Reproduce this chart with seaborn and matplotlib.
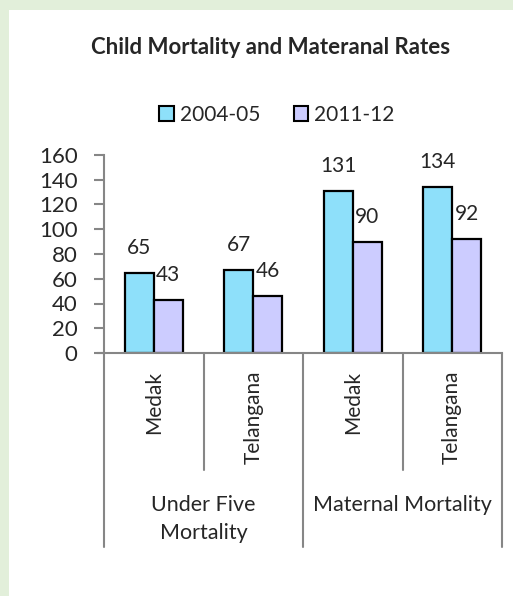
import matplotlib
matplotlib.use('Agg')
import matplotlib.pyplot as plt
import matplotlib.transforms as mtransforms
from matplotlib.patches import Rectangle
import seaborn as sns
import pandas as pd

# dados
grupos = ['Under Five\nMortality', 'Under Five\nMortality', 'Maternal Mortality', 'Maternal Mortality']
locais = ['Medak', 'Telangana', 'Medak', 'Telangana']
anos = ['2004-05', '2011-12']
valores_2004 = [65, 67, 131, 134]
valores_2011 = [43, 46, 90, 92]
cores = ['#8EE0FA', '#CCCCFF']

chaves = [f'{g}|{l}' for g, l in zip(grupos, locais)]
df = pd.DataFrame({
    'chave': chaves * 2,
    'ano': [anos[0]] * 4 + [anos[1]] * 4,
    'valor': valores_2004 + valores_2011,
})

sns.set_style('white')
plt.rcParams['font.family'] = ['Lato', 'DejaVu Sans']

fig = plt.figure(figsize=(5.13, 5.96), dpi=100)
fig.patch.set_color('#E2EFDA')
# painel branco
fig.patches.append(Rectangle((9 / 513, 0), 1, 1 - 10 / 596, transform=fig.transFigure,
                             facecolor='white', edgecolor='none', zorder=-5))

ax = fig.add_axes([104 / 513, 1 - 353 / 596, 398 / 513, 198 / 596])
ax.set_facecolor('none')

sns.barplot(data=df, x='chave', y='valor', hue='ano', order=chaves, hue_order=anos,
            palette=cores, saturation=1, width=0.58, edgecolor='black', linewidth=1.6,
            ax=ax, legend=False)

ax.set_xlim(-0.5, 3.5)
ax.set_ylim(0, 160)
ax.set_yticks(range(0, 161, 20))
ax.tick_params(axis='y', labelsize=16, length=7, width=1.5, color='#868686', left=True, pad=12)
ax.set_xticks([])
ax.set_xlabel('')
ax.set_ylabel('')
for lado in ['top', 'right']:
    ax.spines[lado].set_visible(False)
for lado in ['left', 'bottom']:
    ax.spines[lado].set_color('#868686')
    ax.spines[lado].set_linewidth(1.5)
ax.spines['bottom'].set_bounds(-0.5, 3.5)

# rotulos dos valores
for container in ax.containers:
    for barra in container:
        h = barra.get_height()
        ax.annotate(f'{h:.0f}', (barra.get_x() + barra.get_width() / 2, h),
                    xytext=(0, 18), textcoords='offset points',
                    ha='center', va='center', fontsize=15)

# eixo x com categorias em dois niveis
trans = mtransforms.blended_transform_factory(ax.transData, ax.transAxes)
for i, l in enumerate(locais):
    ax.text(i, -0.09, l, rotation=90, ha='center', va='top', fontsize=15, transform=trans)
for x in [0.5, 2.5]:
    ax.plot([x, x], [0, -0.592], color='#868686', lw=1.5, transform=trans, clip_on=False)
for x in [-0.5, 1.5, 3.5]:
    ax.plot([x, x], [0, -0.98], color='#868686', lw=1.5, transform=trans, clip_on=False)
ax.plot([-0.5 - 7 / 99.5, -0.5], [0, 0], color='#868686', lw=1.5, transform=trans, clip_on=False)

ax.text(0.5, -0.715, grupos[0], ha='center', va='top', fontsize=15.5,
        linespacing=1.5, transform=trans)
ax.text(2.5, -0.715, grupos[2], ha='center', va='top', fontsize=15.5, transform=trans)

fig.text(271 / 513, 1 - 47 / 596, 'Child Mortality and Materanal Rates',
         ha='center', va='center', fontsize=16, fontweight='bold')

handles = [Rectangle((0, 0), 1, 1, facecolor=c, edgecolor='black', linewidth=1.5) for c in cores]
fig.legend(handles, anos, loc='center', bbox_to_anchor=(277 / 513, 1 - 115 / 596),
           ncol=2, frameon=False, fontsize=15, handlelength=0.7, handleheight=0.7,
           handletextpad=0.3, columnspacing=1.6)

fig.savefig('out.png', dpi=100, facecolor=fig.get_facecolor())
